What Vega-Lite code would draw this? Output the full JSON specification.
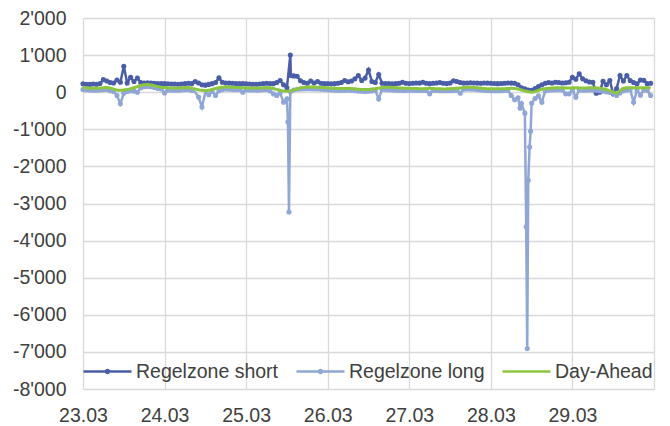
{
"$schema": "https://vega.github.io/schema/vega-lite/v6.json",
"width": 571, "height": 371,
"autosize": {"type": "none"},
"padding": {"left": 83, "top": 18, "right": 16, "bottom": 37},
"background": "white",
"config": {
  "view": {"stroke": null},
  "font": "Liberation Sans",
  "axis": {"labelFont": "Liberation Sans", "labelFontSize": 19.5, "labelColor": "#404040", "grid": true, "gridColor": "#d9d9d9", "gridWidth": 1.3, "domain": false, "ticks": false, "labelOverlap": false}
},
"data": {"values": [
{"h":0,"s":225,"l":70,"d":120},
{"h":1,"s":215,"l":65,"d":115},
{"h":2,"s":210,"l":60,"d":110},
{"h":3,"s":220,"l":55,"d":105},
{"h":4,"s":215,"l":55,"d":105},
{"h":5,"s":235,"l":60,"d":110},
{"h":6,"s":340,"l":70,"d":120},
{"h":7,"s":300,"l":75,"d":130},
{"h":8,"s":260,"l":40,"d":115},
{"h":9,"s":250,"l":20,"d":85},
{"h":10,"s":330,"l":-90,"d":60},
{"h":11,"s":270,"l":-310,"d":55},
{"h":12,"s":700,"l":-30,"d":60},
{"h":13,"s":250,"l":20,"d":75},
{"h":14,"s":400,"l":40,"d":95},
{"h":15,"s":290,"l":30,"d":120},
{"h":16,"s":380,"l":0,"d":150},
{"h":17,"s":260,"l":120,"d":180},
{"h":18,"s":250,"l":150,"d":200},
{"h":19,"s":255,"l":155,"d":205},
{"h":20,"s":245,"l":145,"d":195},
{"h":21,"s":240,"l":125,"d":175},
{"h":22,"s":235,"l":100,"d":150},
{"h":23,"s":230,"l":85,"d":135},
{"h":24,"s":230,"l":-20,"d":125},
{"h":25,"s":225,"l":60,"d":118},
{"h":26,"s":220,"l":55,"d":112},
{"h":27,"s":220,"l":55,"d":110},
{"h":28,"s":215,"l":55,"d":110},
{"h":29,"s":220,"l":60,"d":115},
{"h":30,"s":235,"l":70,"d":125},
{"h":31,"s":240,"l":70,"d":130},
{"h":32,"s":230,"l":50,"d":110},
{"h":33,"s":290,"d":85},
{"h":34,"s":250,"l":-130,"d":65},
{"h":35,"s":200,"l":-400,"d":50},
{"h":36,"s":190,"d":46},
{"h":37,"s":210,"l":-70,"d":55},
{"h":38,"s":230,"l":20,"d":75},
{"h":39,"s":260,"l":-90,"d":100},
{"h":40,"s":385,"l":40,"d":120},
{"h":41,"s":270,"l":70,"d":135},
{"h":42,"s":250,"l":85,"d":140},
{"h":43,"s":245,"l":80,"d":138},
{"h":44,"s":240,"l":75,"d":132},
{"h":45,"s":235,"l":70,"d":128},
{"h":46,"s":230,"l":70,"d":125},
{"h":47,"s":230,"l":0,"d":122},
{"h":48,"s":225,"l":65,"d":118},
{"h":49,"s":220,"l":60,"d":115},
{"h":50,"s":215,"l":58,"d":112},
{"h":51,"s":215,"l":55,"d":110},
{"h":52,"s":220,"l":60,"d":112},
{"h":53,"s":230,"l":65,"d":118},
{"h":54,"s":240,"l":75,"d":125},
{"h":55,"s":235,"l":40,"d":120},
{"h":56,"s":230,"l":-45,"d":100},
{"h":57,"s":260,"l":-90,"d":75},
{"h":58,"s":315,"l":-20,"d":50},
{"h":59,"s":200,"l":-270,"d":35},
{"h":60,"s":120,"l":-180,"d":27},
{"h":60.3,"l":-800},
{"h":60.6,"l":-3230},
{"h":61,"s":1000,"l":10,"d":35},
{"h":61.15,"s":450},
{"h":62,"s":440,"l":60,"d":60},
{"h":63,"s":430,"l":80,"d":90},
{"h":64,"s":310,"l":85,"d":115},
{"h":65,"s":260,"l":90,"d":130},
{"h":66,"s":240,"l":95,"d":140},
{"h":67,"s":300,"l":90,"d":140},
{"h":68,"s":250,"l":85,"d":136},
{"h":69,"s":290,"l":85,"d":132},
{"h":70,"s":240,"l":80,"d":128},
{"h":71,"s":230,"l":75,"d":124},
{"h":72,"s":230,"l":65,"d":115},
{"h":73,"s":225,"l":60,"d":110},
{"h":74,"s":230,"l":55,"d":105},
{"h":75,"s":240,"l":50,"d":100},
{"h":76,"s":260,"l":48,"d":98},
{"h":77,"s":315,"l":50,"d":100},
{"h":78,"s":280,"l":55,"d":105},
{"h":79,"s":300,"l":50,"d":100},
{"h":80,"s":360,"l":40,"d":90},
{"h":81,"s":450,"l":30,"d":80},
{"h":82,"s":315,"l":25,"d":75},
{"h":83,"s":380,"l":22,"d":72},
{"h":84,"s":600,"l":25,"d":75},
{"h":85,"s":290,"l":35,"d":85},
{"h":86,"s":260,"l":45,"d":95},
{"h":87,"s":475,"l":-180,"d":110},
{"h":88,"s":240,"l":75,"d":125},
{"h":89,"s":235,"l":70,"d":135},
{"h":90,"s":230,"l":65,"d":134},
{"h":91,"s":225,"l":60,"d":128},
{"h":92,"s":230,"l":55,"d":122},
{"h":93,"s":240,"l":50,"d":115},
{"h":94,"s":270,"l":45,"d":110},
{"h":95,"s":240,"l":45,"d":108},
{"h":96,"s":235,"l":55,"d":105},
{"h":97,"s":240,"l":50,"d":100},
{"h":98,"s":250,"l":48,"d":98},
{"h":99,"s":245,"l":46,"d":96},
{"h":100,"s":270,"l":45,"d":95},
{"h":101,"s":240,"l":48,"d":98},
{"h":102,"s":230,"l":-45,"d":105},
{"h":103,"s":240,"l":50,"d":100},
{"h":104,"s":250,"l":45,"d":95},
{"h":105,"s":260,"l":40,"d":90},
{"h":106,"s":240,"l":38,"d":88},
{"h":107,"s":235,"l":40,"d":90},
{"h":108,"s":250,"l":42,"d":92},
{"h":109,"s":310,"l":48,"d":98},
{"h":110,"s":290,"l":55,"d":105},
{"h":111,"s":260,"l":-30,"d":115},
{"h":112,"s":245,"l":78,"d":128},
{"h":113,"s":250,"l":85,"d":135},
{"h":114,"s":255,"l":84,"d":134},
{"h":115,"s":250,"l":80,"d":130},
{"h":116,"s":245,"l":72,"d":122},
{"h":117,"s":240,"l":62,"d":112},
{"h":118,"s":250,"l":50,"d":100},
{"h":119,"s":245,"l":45,"d":95},
{"h":120,"s":240,"l":40,"d":92},
{"h":121,"s":235,"l":40,"d":90},
{"h":122,"s":230,"l":38,"d":90},
{"h":123,"s":235,"l":40,"d":92},
{"h":124,"s":240,"l":45,"d":95},
{"h":125,"s":250,"l":50,"d":100},
{"h":126,"s":245,"l":-90,"d":105},
{"h":127,"s":240,"l":-205,"d":100},
{"h":128,"s":200,"l":-150,"d":85},
{"h":128.6,"l":-430},
{"h":129,"s":120,"l":-305,"d":60},
{"h":130,"s":90,"l":-565,"d":35},
{"h":130.4,"l":-3630},
{"h":130.7,"l":-6910},
{"h":131,"s":60,"l":-2375,"d":10},
{"h":131.4,"l":-1480},
{"h":131.7,"l":-1050},
{"h":132,"s":50,"l":-300,"d":0},
{"h":133,"s":100,"l":-170,"d":15},
{"h":134,"s":150,"l":-100,"d":45},
{"h":135,"s":200,"l":-270,"d":80},
{"h":136,"s":240,"l":40,"d":95},
{"h":137,"s":260,"l":55,"d":105},
{"h":138,"s":250,"l":60,"d":112},
{"h":139,"s":270,"l":65,"d":118},
{"h":140,"s":260,"l":70,"d":120},
{"h":141,"s":250,"l":60,"d":118},
{"h":142,"s":255,"l":-45,"d":116},
{"h":143,"s":270,"l":-45,"d":115},
{"h":144,"s":400,"l":60,"d":118},
{"h":145,"s":350,"l":-135,"d":118},
{"h":146,"s":495,"l":60,"d":116},
{"h":147,"s":360,"l":55,"d":115},
{"h":148,"s":310,"l":55,"d":115},
{"h":149,"s":275,"l":60,"d":118},
{"h":150,"s":270,"l":60,"d":120},
{"h":151,"s":-25,"l":50,"d":115},
{"h":152,"s":0,"l":40,"d":110},
{"h":153,"s":295,"l":30,"d":95},
{"h":154,"s":200,"l":10,"d":70},
{"h":155,"s":315,"l":-10,"d":40},
{"h":156,"s":-45,"l":-30,"d":10},
{"h":157,"s":100,"l":-90,"d":-25},
{"h":158,"s":450,"l":-20,"d":40},
{"h":159,"s":300,"l":40,"d":100},
{"h":160,"s":450,"l":60,"d":118},
{"h":161,"s":315,"l":65,"d":120},
{"h":162,"s":260,"l":-270,"d":120},
{"h":163,"s":225,"l":60,"d":118},
{"h":164,"s":330,"l":-80,"d":118},
{"h":165,"s":320,"l":60,"d":118},
{"h":166,"s":230,"l":50,"d":118},
{"h":167,"s":240,"l":-90,"d":118}
]},
"encoding": {
  "x": {"field": "h", "type": "quantitative", "scale": {"domain": [0, 168], "nice": false, "zero": false},
        "axis": {"title": null, "values": [0, 24, 48, 72, 96, 120, 144, 168], "labelExpr": "datum.value >= 168 ? '' : (23 + round(datum.value / 24)) + '.03'", "labelPadding": 17, "labelFlush": false, "labelOverlap": false}}
},
"layer": [
  {"transform": [{"filter": "isValid(datum.s)"}],
   "mark": {"type": "line", "strokeWidth": 2.5},
   "encoding": {
     "y": {"field": "s", "type": "quantitative", "scale": {"domain": [-8000, 2000], "nice": false, "zero": false},
           "axis": {"title": null, "values": [-8000,-7000,-6000,-5000,-4000,-3000,-2000,-1000,0,1000,2000], "labelExpr": "(datum.value < 0 ? '-' : '') + replace(format(abs(datum.value), ','), ',', \"'\")", "labelPadding": 17, "labelOverlap": false}},
     "color": {"datum": "Regelzone short", "type": "nominal",
       "scale": {"domain": ["Regelzone short", "Regelzone long", "Day-Ahead"], "range": ["#4a5ea8", "#8fa6d6", "#8cc63f"]},
       "legend": {"title": null, "orient": "none", "legendX": -1, "legendY": 328, "direction": "horizontal",
         "symbolType": "M-1,0H1",
         "symbolSize": 2304, "symbolStrokeWidth": 2.5, "symbolOpacity": 1,
         "labelFontSize": 19.5, "labelFont": "Liberation Sans", "labelColor": "#404040",
         "labelOffset": 3, "columnPadding": 12, "padding": 0, "labelLimit": 300,
         "encode": {"symbols": {"update": {
           "shape": {"signal": "datum.value === 'Day-Ahead' ? 'M-1,0H1' : 'M-1,0H1M-0.06,0A0.06,0.06 0 1,1 0.06,0A0.06,0.06 0 1,1 -0.06,0Z'"},
           "fill": {"signal": "scale('color', datum.value)"},
           "stroke": {"signal": "scale('color', datum.value)"}}}}}}
   }},
  {"transform": [{"filter": "isValid(datum.s)"}],
   "mark": {"type": "point", "filled": true, "size": 26, "opacity": 1, "color": "#4a5ea8"},
   "encoding": {"y": {"field": "s", "type": "quantitative", "scale": {"domain": [-8000, 2000], "nice": false, "zero": false},
           "axis": {"title": null, "values": [-8000,-7000,-6000,-5000,-4000,-3000,-2000,-1000,0,1000,2000], "labelExpr": "(datum.value < 0 ? '-' : '') + replace(format(abs(datum.value), ','), ',', \"'\")", "labelPadding": 17, "labelOverlap": false}}}},
  {"mark": {"type": "line", "strokeWidth": 2.5, "invalid": null},
   "encoding": {
     "y": {"field": "l", "type": "quantitative", "scale": {"domain": [-8000, 2000], "nice": false, "zero": false},
           "axis": {"title": null, "values": [-8000,-7000,-6000,-5000,-4000,-3000,-2000,-1000,0,1000,2000], "labelExpr": "(datum.value < 0 ? '-' : '') + replace(format(abs(datum.value), ','), ',', \"'\")", "labelPadding": 17, "labelOverlap": false}},
     "color": {"datum": "Regelzone long", "type": "nominal"}}},
  {"transform": [{"filter": "isValid(datum.l)"}],
   "mark": {"type": "point", "filled": true, "size": 26, "opacity": 1, "color": "#8fa6d6"},
   "encoding": {"y": {"field": "l", "type": "quantitative", "scale": {"domain": [-8000, 2000], "nice": false, "zero": false},
           "axis": {"title": null, "values": [-8000,-7000,-6000,-5000,-4000,-3000,-2000,-1000,0,1000,2000], "labelExpr": "(datum.value < 0 ? '-' : '') + replace(format(abs(datum.value), ','), ',', \"'\")", "labelPadding": 17, "labelOverlap": false}}}},
  {"transform": [{"filter": "isValid(datum.d)"}],
   "mark": {"type": "line", "strokeWidth": 3, "interpolate": "monotone"},
   "encoding": {
     "y": {"field": "d", "type": "quantitative", "scale": {"domain": [-8000, 2000], "nice": false, "zero": false},
           "axis": {"title": null, "values": [-8000,-7000,-6000,-5000,-4000,-3000,-2000,-1000,0,1000,2000], "labelExpr": "(datum.value < 0 ? '-' : '') + replace(format(abs(datum.value), ','), ',', \"'\")", "labelPadding": 17, "labelOverlap": false}},
     "color": {"datum": "Day-Ahead", "type": "nominal"}}}
]
}
